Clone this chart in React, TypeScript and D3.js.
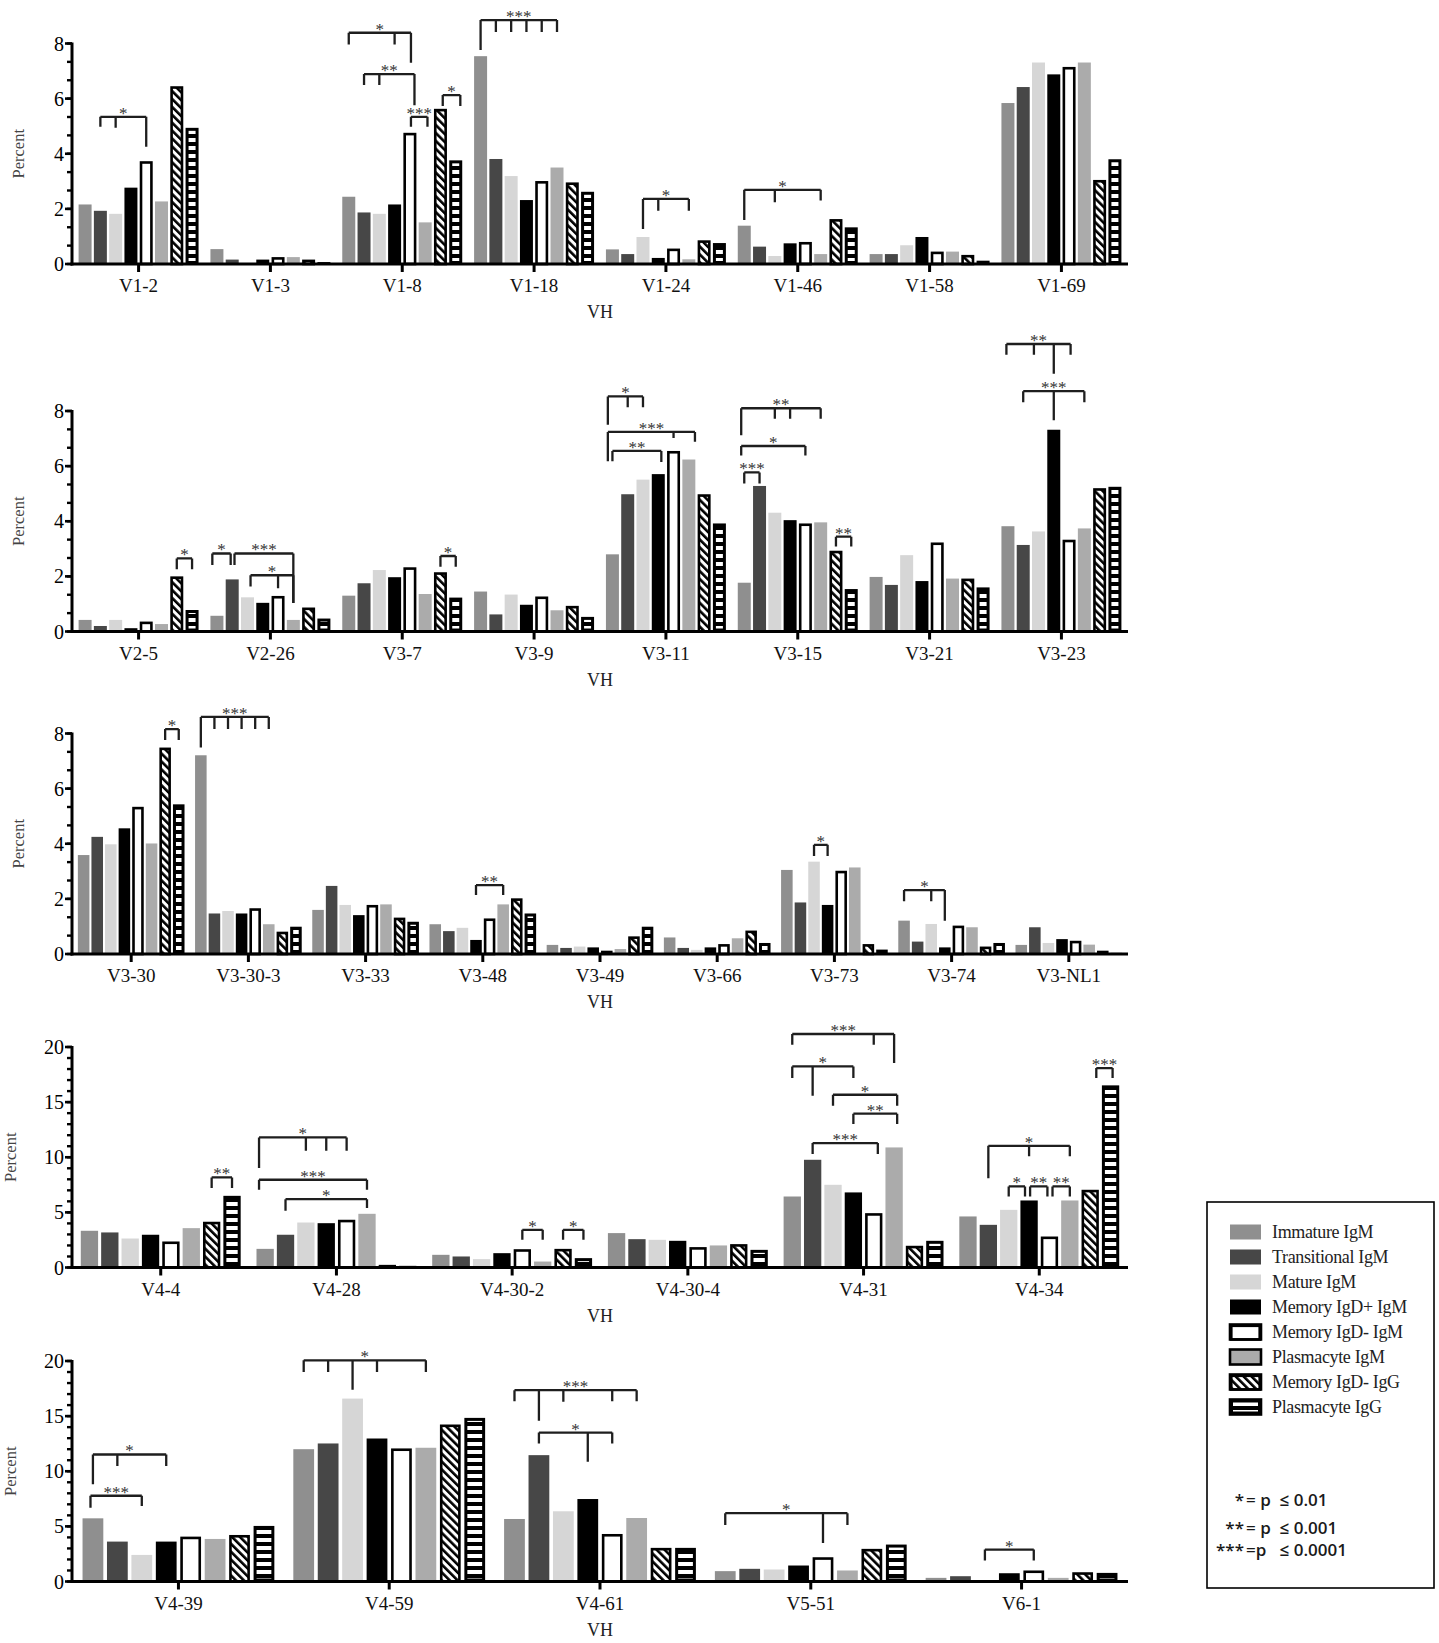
import * as d3 from 'd3';

// series order: one bar per series in every gene group
const seriesNames = [
  'Immature IgM',
  'Transitional IgM',
  'Mature IgM',
  'Memory IgD+ IgM',
  'Memory IgD- IgM',
  'Plasmacyte IgM',
  'Memory IgD- IgG',
  'Plasmacyte IgG',
];

type Bracket = { gene: string; top: number; legs: [number, number][]; label: string };

// ---- panel 1 ----
const p1Genes = ['V1-2', 'V1-3', 'V1-8', 'V1-18', 'V1-24', 'V1-46', 'V1-58', 'V1-69'];
const p1Values = [
  [2.16, 1.93, 1.82, 2.77, 3.73, 2.27, 6.45, 4.94],
  [0.54, 0.16, 0.03, 0.16, 0.25, 0.25, 0.16, 0.07],
  [2.44, 1.87, 1.82, 2.16, 4.76, 1.51, 5.63, 3.76],
  [7.54, 3.81, 3.19, 2.32, 3.01, 3.5, 2.96, 2.62],
  [0.53, 0.36, 0.98, 0.22, 0.56, 0.17, 0.86, 0.76],
  [1.39, 0.63, 0.29, 0.75, 0.8, 0.36, 1.63, 1.33],
  [0.36, 0.36, 0.68, 0.98, 0.45, 0.45, 0.33, 0.12],
  [5.84, 6.42, 7.31, 6.88, 7.15, 7.31, 3.05, 3.8],
];
const p1Brackets: Bracket[] = [
  { gene: 'V1-2', top: 5.34, legs: [[1, 4.98], [2, 4.94], [4, 4.25]], label: '*' },
  { gene: 'V1-8', top: 8.39, legs: [[0, 7.96], [3, 7.96], [4.07, 7.3]], label: '*' },
  { gene: 'V1-8', top: 6.89, legs: [[1, 6.49], [2, 6.49], [4.3, 5.76]], label: '**' },
  { gene: 'V1-8', top: 5.34, legs: [[4.07, 4.98], [5.15, 4.98]], label: '***' },
  { gene: 'V1-8', top: 6.13, legs: [[6.15, 5.73], [7.3, 5.73]], label: '*' },
  { gene: 'V1-18', top: 8.85, legs: [[0, 7.76], [1, 8.42], [2, 8.42], [3, 8.42], [4, 8.42], [5, 8.42]], label: '***' },
  { gene: 'V1-24', top: 2.36, legs: [[2, 1.27], [3, 1.93], [5, 1.93]], label: '*' },
  { gene: 'V1-46', top: 2.69, legs: [[0, 1.6], [2, 2.24], [5, 2.3]], label: '*' },
];

// ---- panel 2 ----
const p2Genes = ['V2-5', 'V2-26', 'V3-7', 'V3-9', 'V3-11', 'V3-15', 'V3-21', 'V3-23'];
const p2Values = [
  [0.42, 0.2, 0.42, 0.12, 0.36, 0.27, 2.0, 0.78],
  [0.57, 1.89, 1.24, 1.04, 1.29, 0.42, 0.87, 0.47],
  [1.3, 1.75, 2.23, 1.97, 2.33, 1.36, 2.15, 1.23],
  [1.45, 0.62, 1.34, 0.97, 1.27, 0.77, 0.93, 0.53],
  [2.8, 4.98, 5.51, 5.71, 6.55, 6.24, 4.98, 3.92],
  [1.77, 5.28, 4.31, 4.04, 3.92, 3.96, 2.93, 1.54],
  [1.98, 1.69, 2.77, 1.83, 3.23, 1.92, 1.92, 1.6],
  [3.82, 3.14, 3.63, 7.32, 3.33, 3.74, 5.2, 5.25],
];
const p2Brackets: Bracket[] = [
  { gene: 'V2-5', top: 2.65, legs: [[6, 2.26], [7, 2.26]], label: '*' },
  { gene: 'V2-26', top: 2.83, legs: [[-0.3, 2.41], [0.9, 2.41]], label: '*' },
  { gene: 'V2-26', top: 2.83, legs: [[1.15, 2.41], [5, 1.03]], label: '***' },
  { gene: 'V2-26', top: 2.04, legs: [[2.2, 1.63], [4, 1.57], [5, 1.03]], label: '*' },
  { gene: 'V3-7', top: 2.74, legs: [[6, 2.35], [7, 2.35]], label: '*' },
  { gene: 'V3-11', top: 8.53, legs: [[-0.3, 7.5], [1, 8.14], [2, 8.14]], label: '*' },
  { gene: 'V3-11', top: 7.24, legs: [[-0.3, 6.18], [4, 7.02], [5.4, 6.88]], label: '***' },
  { gene: 'V3-11', top: 6.55, legs: [[0, 6.18], [3.2, 6.15]], label: '**' },
  { gene: 'V3-15', top: 8.1, legs: [[-0.2, 7.12], [2, 7.72], [3, 7.72], [5, 7.72]], label: '**' },
  { gene: 'V3-15', top: 6.73, legs: [[-0.2, 6.39], [4, 6.39]], label: '*' },
  { gene: 'V3-15', top: 5.77, legs: [[0, 5.37], [1, 5.37]], label: '***' },
  { gene: 'V3-15', top: 3.44, legs: [[6, 3.08], [7, 3.08]], label: '**' },
  { gene: 'V3-23', top: 10.43, legs: [[-0.1, 10.04], [1.7, 10.04], [3, 9.35], [4.1, 10.04]], label: '**' },
  { gene: 'V3-23', top: 8.72, legs: [[1, 8.32], [3, 7.66], [5, 8.32]], label: '***' },
];

// ---- panel 3 ----
const p3Genes = ['V3-30', 'V3-30-3', 'V3-33', 'V3-48', 'V3-49', 'V3-66', 'V3-73', 'V3-74', 'V3-NL1'];
const p3Values = [
  [3.59, 4.25, 3.98, 4.56, 5.34, 4.01, 7.49, 5.43],
  [7.21, 1.47, 1.56, 1.47, 1.66, 1.08, 0.81, 0.99],
  [1.6, 2.47, 1.78, 1.41, 1.78, 1.8, 1.32, 1.17],
  [1.08, 0.83, 0.95, 0.51, 1.29, 1.8, 2.02, 1.47],
  [0.33, 0.22, 0.27, 0.24, 0.12, 0.18, 0.64, 0.99],
  [0.6, 0.22, 0.15, 0.24, 0.36, 0.57, 0.85, 0.4],
  [3.05, 1.87, 3.35, 1.78, 3.02, 3.14, 0.36, 0.16],
  [1.21, 0.45, 1.09, 0.24, 1.03, 0.97, 0.27, 0.4],
  [0.33, 0.97, 0.4, 0.54, 0.48, 0.34, 0.12, 0.04],
];
const p3Brackets: Bracket[] = [
  { gene: 'V3-30', top: 8.16, legs: [[6, 7.76], [7, 7.76]], label: '*' },
  { gene: 'V3-30-3', top: 8.6, legs: [[0, 7.49], [1, 8.16], [2, 8.16], [3, 8.16], [4, 8.16], [5, 8.16]], label: '***' },
  { gene: 'V3-48', top: 2.5, legs: [[3, 2.14], [5, 2.14]], label: '**' },
  { gene: 'V3-73', top: 3.96, legs: [[2, 3.56], [3, 3.56]], label: '*' },
  { gene: 'V3-74', top: 2.32, legs: [[0, 1.91], [2, 1.91], [3, 1.21]], label: '*' },
];

// ---- panel 4 ----
const p4Genes = ['V4-4', 'V4-28', 'V4-30-2', 'V4-30-4', 'V4-31', 'V4-34'];
const p4Values = [
  [3.33, 3.18, 2.63, 2.97, 2.36, 3.57, 4.15, 6.5],
  [1.69, 2.97, 4.08, 4.02, 4.33, 4.87, 0.24, 0.15],
  [1.15, 1.0, 0.76, 1.3, 1.66, 0.54, 1.69, 0.85],
  [3.12, 2.57, 2.51, 2.42, 1.85, 2.0, 2.12, 1.6],
  [6.44, 9.77, 7.5, 6.81, 4.93, 10.89, 1.97, 2.42],
  [4.63, 3.87, 5.23, 6.08, 2.81, 6.08, 7.05, 16.52],
];
const p4Brackets: Bracket[] = [
  { gene: 'V4-4', top: 8.17, legs: [[6, 7.2], [7, 7.2]], label: '**' },
  { gene: 'V4-28', top: 11.8, legs: [[-0.3, 9.02], [2, 10.6], [3, 10.6], [4, 10.6]], label: '*' },
  { gene: 'V4-28', top: 7.96, legs: [[-0.3, 7.05], [5, 7.05]], label: '***' },
  { gene: 'V4-28', top: 6.2, legs: [[1, 5.14], [5, 5.39]], label: '*' },
  { gene: 'V4-30-2', top: 3.42, legs: [[4, 2.51], [5, 2.51]], label: '*' },
  { gene: 'V4-30-2', top: 3.42, legs: [[6, 2.51], [7, 2.51]], label: '*' },
  { gene: 'V4-31', top: 21.18, legs: [[0, 20.2], [4, 20.2], [5, 18.55]], label: '***' },
  { gene: 'V4-31', top: 18.24, legs: [[0, 17.19], [1, 15.58], [3, 17.19]], label: '*' },
  { gene: 'V4-31', top: 15.67, legs: [[2, 14.67], [5.15, 14.67]], label: '*' },
  { gene: 'V4-31', top: 13.95, legs: [[3, 13.01], [5.15, 13.01]], label: '**' },
  { gene: 'V4-31', top: 11.29, legs: [[1, 10.29], [4.2, 10.29]], label: '***' },
  { gene: 'V4-34', top: 11.04, legs: [[1, 8.1], [3, 10.08], [5, 10.08]], label: '*' },
  { gene: 'V4-34', top: 7.35, legs: [[2, 6.44], [2.8, 6.44]], label: '*' },
  { gene: 'V4-34', top: 7.35, legs: [[3.05, 6.44], [3.9, 6.44]], label: '**' },
  { gene: 'V4-34', top: 7.35, legs: [[4.15, 6.44], [5, 6.44]], label: '**' },
  { gene: 'V4-34', top: 18.09, legs: [[6.3, 17.19], [7.1, 17.19]], label: '***' },
];

// ---- panel 5 ----
const p5Genes = ['V4-39', 'V4-59', 'V4-61', 'V5-51', 'V6-1'];
const p5Values = [
  [5.73, 3.62, 2.41, 3.62, 4.07, 3.86, 4.22, 5.04],
  [12.0, 12.52, 16.59, 12.97, 12.07, 12.13, 14.24, 14.84],
  [5.67, 11.46, 6.37, 7.48, 4.31, 5.76, 3.05, 3.05],
  [0.94, 1.15, 1.09, 1.45, 2.2, 1.0, 2.96, 3.35],
  [0.33, 0.48, 0.02, 0.75, 1.0, 0.33, 0.84, 0.78],
];
const p5Brackets: Bracket[] = [
  { gene: 'V4-39', top: 11.52, legs: [[0, 8.81], [1, 10.47], [3, 10.47]], label: '*' },
  { gene: 'V4-39', top: 7.78, legs: [[-0.1, 6.7], [2, 6.85]], label: '***' },
  { gene: 'V4-59', top: 20.06, legs: [[0, 19], [1, 19], [2, 17.4], [3, 19], [5, 19]], label: '*' },
  { gene: 'V4-61', top: 17.35, legs: [[0, 16.35], [1, 14.57], [2, 16.3], [4, 16.35], [5, 16.35]], label: '***' },
  { gene: 'V4-61', top: 13.51, legs: [[1, 12.52], [3, 10.86], [4, 12.52]], label: '*' },
  { gene: 'V5-51', top: 6.2, legs: [[0, 5.13], [4, 3.5], [5, 5.13]], label: '*' },
  { gene: 'V6-1', top: 2.9, legs: [[2, 1.9], [4, 1.9]], label: '*' },
];

const pLegend = [
  { stars: '*', eq: '= ', rest: 'p  \u2264 0.01' },
  { stars: '**', eq: '= ', rest: 'p  \u2264 0.001' },
  { stars: '***', eq: '=', rest: 'p   \u2264 0.0001' },
];

const GRAYS: Record<number, string> = { 0: '#8f8f8f', 1: '#474747', 2: '#d6d6d6', 3: '#000000', 5: '#ababab' };
const SERIF = '"Liberation Serif", "Times New Roman", serif';
const X0 = 72;
const X1 = 1128;
const PANEL_H = 220.5;

function Bar({ k, x, y, w, h }: { k: number; x: number; y: number; w: number; h: number }) {
  if (h <= 0) return null;
  if (k in GRAYS) return <rect x={x} y={y} width={w} height={h} fill={GRAYS[k]} />;
  if (k === 7) {
    const inset = 3;
    return (
      <g>
        <rect x={x} y={y} width={w} height={h} fill="#000" />
        {h > inset * 2 && (
          <rect x={x + inset} y={y + inset} width={w - inset * 2} height={h - inset * 2} fill="url(#hstripe)" />
        )}
      </g>
    );
  }
  const sw = 2.6;
  if (h < sw * 1.5) return <rect x={x} y={y} width={w} height={h} fill="#000" />;
  return (
    <rect
      x={x + sw / 2}
      y={y + sw / 2}
      width={w - sw}
      height={h - sw / 2}
      fill={k === 6 ? 'url(#diag)' : '#fff'}
      stroke="#000"
      strokeWidth={sw}
    />
  );
}

function Panel({ y0, yMax, yStep, minorStep, genes, values, brackets, percentX }: {
  y0: number; yMax: number; yStep: number; minorStep: number; genes: string[];
  values: number[][]; brackets: Bracket[]; percentX: number;
}) {
  const x = d3.scaleBand<string>().domain(genes).range([X0, X1]).paddingInner(0.09).paddingOuter(0.05);
  const xs = d3.scaleBand<number>().domain(d3.range(seriesNames.length)).range([0, x.bandwidth()]).paddingInner(0.15);
  const y = d3.scaleLinear().domain([0, yMax]).range([y0, y0 - PANEL_H]);
  const majors = d3.range(0, yMax + 0.001, yStep);
  const minors = d3.range(0, yMax + 0.001, minorStep);
  const barCenter = (g: string, k: number) => (x(g) ?? 0) + xs.step() * k + xs.bandwidth() / 2;

  return (
    <g>
      {genes.map((g, gi) => (
        <g key={g}>
          {values[gi].map((v, k) => (
            <Bar key={k} k={k} x={(x(g) ?? 0) + (xs(k) ?? 0)} y={y(v)} w={xs.bandwidth()} h={y(0) - y(v)} />
          ))}
        </g>
      ))}

      {/* significance brackets */}
      {brackets.map((b, i) => {
        const xsLeg = b.legs.map(([k]) => barCenter(b.gene, k));
        const xa = d3.min(xsLeg) as number;
        const xb = d3.max(xsLeg) as number;
        const p = d3.path();
        p.moveTo(xa, y(b.top));
        p.lineTo(xb, y(b.top));
        b.legs.forEach(([k, end]) => {
          p.moveTo(barCenter(b.gene, k), y(b.top));
          p.lineTo(barCenter(b.gene, k), y(end));
        });
        return (
          <g key={i}>
            <path d={p.toString()} fill="none" stroke="#1e1e1e" strokeWidth={2.3} />
            <text x={(xa + xb) / 2} y={y(b.top) + 2} textAnchor="middle" fontFamily={SERIF} fontSize={17} fill="#333">
              {b.label}
            </text>
          </g>
        );
      })}

      {/* y axis */}
      <line x1={X0} x2={X0} y1={y(0) + 1.5} y2={y(yMax) - 1} stroke="#000" strokeWidth={3} />
      {minors.map((t) => (
        <line key={`m${t}`} x1={X0 - 5} x2={X0} y1={y(t)} y2={y(t)} stroke="#000" strokeWidth={2.4} />
      ))}
      {majors.map((t) => (
        <g key={t}>
          <line x1={X0 - 7} x2={X0} y1={y(t)} y2={y(t)} stroke="#000" strokeWidth={2.6} />
          <text x={X0 - 8} y={y(t)} dy="0.35em" textAnchor="end" fontFamily={SERIF} fontSize={20} fill="#000">
            {t}
          </text>
        </g>
      ))}
      <text
        transform={`translate(${percentX},${y(yMax / 2)}) rotate(-90)`}
        textAnchor="middle"
        fontFamily={SERIF}
        fontSize={16.5}
        fill="#444"
      >
        Percent
      </text>

      {/* x axis */}
      <line x1={X0 - 1.5} x2={X1} y1={y(0)} y2={y(0)} stroke="#000" strokeWidth={3} />
      {genes.map((g) => (
        <g key={g}>
          <line x1={barCenter(g, 3.5)} x2={barCenter(g, 3.5)} y1={y(0)} y2={y(0) + 8} stroke="#000" strokeWidth={3} />
          <text x={barCenter(g, 3.5)} y={y(0) + 28} textAnchor="middle" fontFamily={SERIF} fontSize={19} fill="#111">
            {g}
          </text>
        </g>
      ))}
      <text x={(X0 + X1) / 2} y={y(0) + 54} textAnchor="middle" fontFamily={SERIF} fontSize={18} fill="#222">
        VH
      </text>
    </g>
  );
}

function Legend() {
  const rowY = d3.scaleLinear().domain([0, 1]).range([1232, 1257]);
  return (
    <g>
      <rect x={1207} y={1202} width={227} height={386} fill="#fff" stroke="#000" strokeWidth={1.6} />
      {seriesNames.map((s, k) => (
        <g key={s}>
          <Bar k={k} x={1230} y={rowY(k) - 7.5} w={31} h={15} />
          {k >= 4 && (
            <rect x={1230} y={rowY(k) - 7.5} width={31} height={15} fill="none" stroke="#000" strokeWidth={2.6} />
          )}
          <text x={1272} y={rowY(k)} dy="0.33em" fontFamily={SERIF} fontSize={18} letterSpacing={-0.35} fill="#222">
            {s}
          </text>
        </g>
      ))}
      {pLegend.map((r, i) => {
        const by = [1506, 1534, 1556][i];
        return (
          <g key={i} fontFamily='"Open Sans", "Noto Sans", sans-serif' fontSize={17} fontWeight={600} fill="#1a1a1a">
            <text x={1244} y={by} textAnchor="end">{r.stars}</text>
            <text x={1246} y={by} xmlSpace="preserve">{r.eq + r.rest}</text>
          </g>
        );
      })}
    </g>
  );
}

export default function App() {
  return (
    <div style={{ position: 'absolute', left: 0, top: 0 }}>
      <svg width={1439} height={1643} viewBox="0 0 1439 1643" style={{ display: 'block', background: '#fff' }}>
        <defs>
          <pattern id="diag" patternUnits="userSpaceOnUse" width={5.6} height={5.6} patternTransform="rotate(-45)">
            <rect width={5.6} height={5.6} fill="#fff" />
            <rect width={2.6} height={5.6} fill="#000" />
          </pattern>
          <pattern id="hstripe" patternUnits="userSpaceOnUse" width={10} height={8}>
            <rect width={10} height={8} fill="#000" />
            <rect y={2} width={10} height={4} fill="#fff" />
          </pattern>
        </defs>
        <Panel y0={264} yMax={8} yStep={2} minorStep={2 / 3} genes={p1Genes} values={p1Values} brackets={p1Brackets} percentX={24} />
        <Panel y0={631.5} yMax={8} yStep={2} minorStep={2 / 3} genes={p2Genes} values={p2Values} brackets={p2Brackets} percentX={24} />
        <Panel y0={954} yMax={8} yStep={2} minorStep={2 / 3} genes={p3Genes} values={p3Values} brackets={p3Brackets} percentX={24} />
        <Panel y0={1267.5} yMax={20} yStep={5} minorStep={1} genes={p4Genes} values={p4Values} brackets={p4Brackets} percentX={16} />
        <Panel y0={1581.5} yMax={20} yStep={5} minorStep={1} genes={p5Genes} values={p5Values} brackets={p5Brackets} percentX={16} />
        <Legend />
      </svg>
    </div>
  );
}
